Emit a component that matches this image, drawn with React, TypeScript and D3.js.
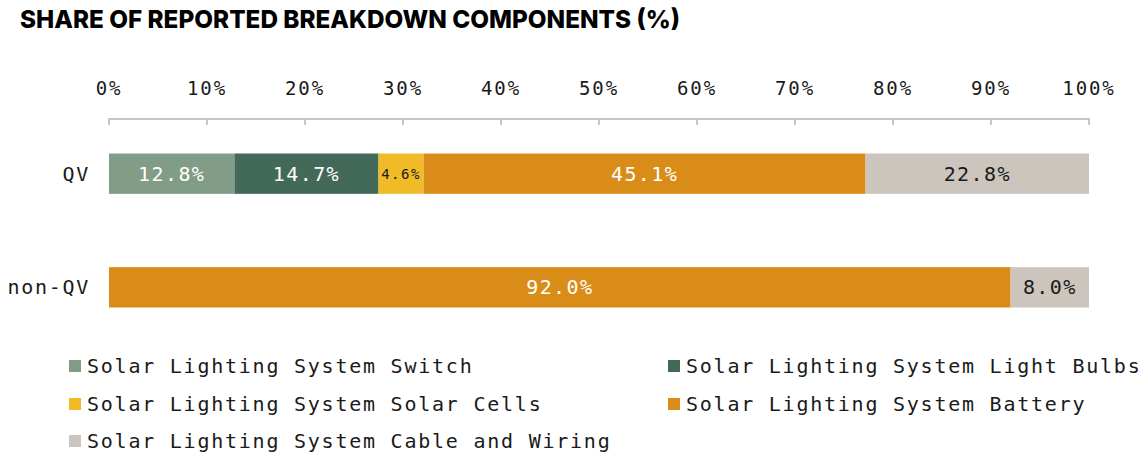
import React from "react";
import * as d3 from "d3";

const categories = ["QV", "non-QV"];
const seriesNames = [
  "Solar Lighting System Switch",
  "Solar Lighting System Light Bulbs",
  "Solar Lighting System Solar Cells",
  "Solar Lighting System Battery",
  "Solar Lighting System Cable and Wiring",
];
const switchVals = [12.8, 0];
const bulbsVals = [14.7, 0];
const cellsVals = [4.6, 0];
const batteryVals = [45.1, 92.0];
const cableVals = [22.8, 8.0];
const seriesColors = ["#819d87", "#436a59", "#f0bb26", "#d98d18", "#cbc5bd"];
const labelColors = ["#ffffff", "#ffffff", "#1a1a1a", "#ffffff", "#1a1a1a"];
const tickValues = [0, 10, 20, 30, 40, 50, 60, 70, 80, 90, 100];

const MONO = "'DejaVu Sans Mono', 'Liberation Mono', monospace";

export default function App() {
  const W = 1148;
  const H = 456;
  const x = d3.scaleLinear().domain([0, 100]).range([109, 1089]);
  const y = d3.scaleBand().domain(categories).range([153.5, 307.5]).paddingInner(0.645).paddingOuter(0);

  const rows = categories.map((c, i) => ({
    cat: c,
    vals: [switchVals[i], bulbsVals[i], cellsVals[i], batteryVals[i], cableVals[i]],
  }));

  const legendPos = [
    { x: 69, y: 366 },
    { x: 668, y: 366 },
    { x: 69, y: 404 },
    { x: 668, y: 404 },
    { x: 69, y: 441 },
  ];

  const axisY = 119;

  return (
    <svg width={W} height={H} style={{ position: "absolute", left: 0, top: 0 }}>
      <text
        x={20}
        y={28}
        fontFamily="Inter, 'DejaVu Sans', sans-serif"
        fontWeight={800}
        fontSize={25}
        fill="#000"
        textLength={660}
        lengthAdjust="spacingAndGlyphs"
      >
        SHARE OF REPORTED BREAKDOWN COMPONENTS (%)
      </text>

      {/* axis */}
      <line x1={x(0)} x2={x(100)} y1={axisY} y2={axisY} stroke="#c6c6c6" strokeWidth={2} />
      {tickValues.map((t) => (
        <g key={t}>
          <line x1={x(t)} x2={x(t)} y1={axisY - 1} y2={axisY + 6} stroke="#c6c6c6" strokeWidth={2} />
          <text
            x={x(t)}
            y={95}
            textAnchor="middle"
            fontFamily={MONO}
            fontSize={19}
            letterSpacing={1.9}
            fill="#1a1a1a"
          >
            {t + "%"}
          </text>
        </g>
      ))}

      {rows.map((r) => {
        let acc = 0;
        const by = y(r.cat)!;
        const bh = y.bandwidth();
        return (
          <g key={r.cat}>
            <text
              x={90}
              y={by + bh / 2 + 7}
              textAnchor="end"
              fontFamily={MONO}
              fontSize={20}
              letterSpacing={1.7}
              fill="#1a1a1a"
            >
              {r.cat}
            </text>
            {r.vals.map((v, k) => {
              const x0 = x(acc);
              acc += v;
              const x1 = x(acc);
              if (v <= 0) return null;
              const small = v < 6;
              return (
                <g key={k}>
                  <rect x={x0} y={by} width={x1 - x0} height={bh} fill={seriesColors[k]} />
                  <text
                    x={(x0 + x1) / 2}
                    y={by + bh / 2 + (small ? 5 : 7)}
                    textAnchor="middle"
                    fontFamily={MONO}
                    fontSize={small ? 14 : 20}
                    letterSpacing={small ? 1.5 : 1.4}
                    fill={labelColors[k]}
                  >
                    {v.toFixed(1) + "%"}
                  </text>
                </g>
              );
            })}
          </g>
        );
      })}

      {seriesNames.map((n, k) => (
        <g key={n}>
          <rect x={legendPos[k].x} y={legendPos[k].y - 6} width={12} height={12} fill={seriesColors[k]} />
          <text
            x={legendPos[k].x + 18}
            y={legendPos[k].y + 7}
            fontFamily={MONO}
            fontSize={20}
            letterSpacing={1.76}
            fill="#1a1a1a"
          >
            {n}
          </text>
        </g>
      ))}
    </svg>
  );
}
